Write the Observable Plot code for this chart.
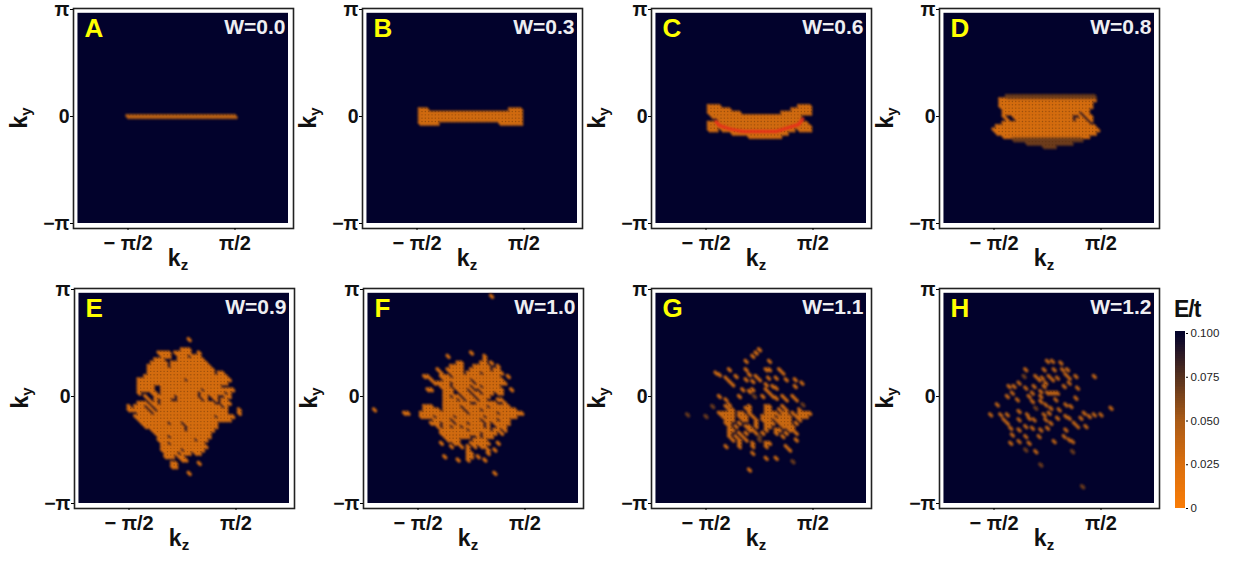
<!DOCTYPE html>
<html><head><meta charset="utf-8">
<script src="https://cdn.jsdelivr.net/npm/d3@7"></script>
<script src="https://cdn.jsdelivr.net/npm/@observablehq/plot@0.6"></script>
<style>
html,body{margin:0;padding:0;background:#fff;width:1242px;height:561px;overflow:hidden}
#page{position:relative;width:1242px;height:561px;font-family:"Liberation Sans",Arial,sans-serif}
#page svg{position:absolute;background:transparent;overflow:visible}
#et{position:absolute;left:1174px;top:296px;font:bold 23px "Liberation Sans";letter-spacing:-1px;color:#111}
</style></head><body><div id="page"><div id="et">E/t</div></div>
<script>
// Lattice: kz = i·π/32, ky = j·π/32. Each row: [j, i1, i2, i1, i2, ...]
const rowsA=[[0,-16,16]];
const rowsB=[[2,-15,-13,12,15],[1,-15,15],[0,-15,15],[-1,-15,15],[-2,-15,-10,9,15]];
const rowsC=[[3,-15,-12,12,15],[2,-15,-9,10,15],[1,-15,-6,7,15],[0,-14,12],[-1,-12,12],[-2,-15,14],[-3,-15,15],[-4,-11,10,-15,-13,12,15],[-5,-8,8],[-6,-3,6]];
const redC=[[-13,-1.5],[-12,-2.7],[-9,-3.7],[-5,-4.5],[0,-4.5],[5,-4.5],[9,-3.2],[11.7,-2.4],[13,-0.7]];
const rowsD=[[5,-14,14],[4,-14,13],[3,-14,13],[2,-13,12],[1,-13,9,11,12],[0,-13,-13,-10,7,10,10,12,13],[-1,-12,-12,-9,7,9,11,13,13],[-2,-13,12],[-3,-15,14],[-4,-16,15],[-5,-15,14],[-6,-13,12]];
const dimD=[[6,-12,14],[-7,-10,10],[-8,-6,7],[-9,-1,2]];
const rowsE=[[17,2,2],[14,0,2],[13,-7,-4,-2,2,5,5],[12,-6,-4,-1,1,3,5],[11,-8,-6,-1,6],[10,-9,-5,-3,7],[9,-10,-5,-3,8],[8,-10,9],[7,-10,9,11,12],[6,-11,13],[5,-13,0,2,14],[4,-13,13],[3,-13,-9,-6,11],[2,-13,-9,-6,5,7,15],[1,-13,-13,-9,-8,-6,4,6,12,14,14],[0,-11,-11,-8,-3,-1,4,6,7,9,10,13,14],[-1,-10,-10,-8,-8,-6,-4,-1,5,7,7,10,10,12,13],[-2,-13,-11,-9,-8,-6,9,12,14],[-3,-16,-16,-14,-12,-10,-10,-8,11,13,13],[-4,-16,-15,-14,-11,-9,-9,-7,13,17,17],[-5,-13,-10,-8,13,17,17],[-6,-14,9,11,15],[-7,-13,14],[-8,-12,-5,-3,-1,1,10],[-9,-11,0,2,10],[-10,-9,0,2,9],[-11,-8,8],[-12,-7,-5,-3,8],[-13,-7,3,5,7],[-14,-6,-5,-3,6],[-15,-6,7],[-16,-6,-1,1,6],[-17,-5,-2,0,2,4,5],[-18,-5,-3,-1,0],[-19,0,1],[-20,-3,-2,5,5],[-21,-3,-2],[-23,2,2]];
const rowsF=[[30,6,6],[13,0,0],[12,-7,-7,4,4],[11,4,4],[10,-4,-3,3,4,6,6],[9,-6,-3,1,5,8,8],[8,-10,-10,-7,-3,0,5,7,8],[7,-9,-9,-6,-3,-1,2,4,9],[6,-14,-13,-9,-7,-5,8,11,11],[5,-12,-12,-8,-1,1,9],[4,-11,-7,-5,0,2,10],[3,-9,-7,-5,-1,1,2,4,8],[2,-13,-12,-8,-6,-4,-2,0,0,3,9,12,12],[1,-8,-6,-3,-1,1,2,4,6,8,9],[0,-8,-7,-5,-4,-2,0,2,5],[-1,-8,-5,-3,-3,-1,1,3,4,8,9],[-2,-8,-1,2,7,10,10],[-3,-14,-12,-8,-4,-2,4,6,11],[-4,-29,-29,-14,-10,-8,-3,-1,2,4,13],[-5,-20,-19,-15,-8,-7,-2,0,7,9,15],[-6,-15,-12,-10,-6,-4,3,5,13],[-7,-11,-9,-8,-7,-5,2,4,7,9,11],[-8,-12,-10,-8,-6,-4,-2,0,3,5,5,7,11],[-9,-10,-10,-8,-7,-5,-4,-2,3,5,5,8,10],[-10,-9,-2,0,5,7,8,10,10],[-11,-9,2,4,7,9,9],[-12,-8,-1,2,2,4,6],[-13,-7,-4,1,4],[-14,-9,-9,-5,-4,0,5,8,8],[-15,-6,-6,-3,-3,-1,-1,1,1,3,4],[-16,-1,-1,5,5,7,7],[-17,-1,0,5,5],[-18,-8,-8,-1,0,2,2],[-19,-4,-4,-1,-1,4,4],[-23,7,7]];
const rowsG=[[-4,-9,-8,-3,-3,2,3,6,6,8,8,12,12],[-3,2,3,7,7],[-5,-12,-8,-6,-5,-3,-3,2,5,7,8,10,10,12,15],[-6,-11,-8,-6,-4,-2,-2,1,4,6,9,11,14],[-7,-10,-8,-5,-4,-1,-1,1,3,5,9,12,12],[-8,-10,-9,-6,-6,-1,-1,2,4,6,9,11,11],[-9,-9,-9,-7,-7,-4,-3,-1,-1,2,3,7,10],[-10,-9,-8,-3,-2,2,2,5,6,9,10],[-11,-9,-9,-6,-6,-4,-4,-1,-1,1,1,5,5,8,8,11,11],[-12,-9,-9,-7,-7,-5,-5,7,7],[-13,-8,-8,-6,-6,-4,-4,11,11],[-14,-6,-6,-2,-2,2,3]];
const pointsG=[[0,14],[-1,13],[-2,12],[-4,10.5],[3,10.5],[-9,8],[-4,8],[2,8],[3,8],[6,8],[7,7],[-13,7],[-12,6.5],[-10,5.5],[-9,4.5],[-8,3.5],[-7,6],[-3,6.5],[-1,6],[0,5],[-4,5],[-2,4.5],[2.7,5.5],[5,5.5],[8,5],[10.7,5],[12.7,4],[10.7,3],[2,3.5],[4,3],[5,2.5],[2,2],[3,1],[4,0],[5,-0.5],[-5,2],[-3,1.5],[-2,2],[-6,0],[-12,0],[-10,-1],[1,0],[7,0],[8,-1],[10,0],[11,-1],[-3,-3],[-4,-3.5],[-9,-2.5],[-10,-3],[-6,-15],[8,-15],[9,-16],[-2,-17],[2,-18.5],[5,-18.5],[-3,-22],[-10,-15],[-2,-15],[2,-15]];
const dimG=[[-14,-3],[13,-2.5],[-1.5,0],[10,-19.5],[-21.5,-5.5],[-16,-6],[0,-12],[0,-13]];
const pointsH=[[0,10.5],[1.5,10.5],[4,10],[6,8],[-1,8],[2,8],[4.5,8],[-6.5,8],[14,6],[8.5,6],[-3.5,6],[-1.5,5.5],[0.5,6],[3,5.5],[5.5,6.5],[6.5,5.5],[-2.5,5],[-0.5,4],[1.5,5],[-8.5,4],[-10,3],[-11.5,3],[-6.5,2.5],[-4,3],[-1,3],[5,3],[6.5,4],[9,2.5],[-2,1.5],[-4.5,1],[0,1],[1,1],[2,1],[3,1],[-10.5,1],[-12,0],[-9,-1],[-5.5,0],[-4.5,-1.5],[-2,0],[-2,-1.5],[2.5,-1],[5.5,-2.5],[7,-3],[8.5,-0.5],[-15,-2.5],[-0.5,-2.5],[3.5,-4],[1,-3.5],[19,-3.5],[-8.5,-4.5],[-6,-5.5],[-17,-5.5],[-14,-5.5],[-12,-5.5],[-8.5,-7],[-13,-7],[-12,-8],[-11,-9.5],[-5.5,-6.5],[-4,-7],[-1,-5.5],[0.5,-5],[-0.5,-7],[1,-8],[3,-6.5],[5.5,-6],[6.5,-6.5],[8,-8],[10,-6.5],[12.5,-6],[14,-5.5],[16,-5.5],[11,-5],[9,-9],[11.5,-9],[5.5,-10],[-6.5,-9],[-4.5,-9.5],[-2,-10],[0,-9.5],[-8.5,-10],[-10.5,-11.5],[-11,-14],[-8.5,-13.5],[-6.5,-12],[-5.5,-14],[-2.5,-12],[2,-13.5],[5,-12],[6.5,-13],[7.5,-13.5],[-3.5,-16.5]];
const dimH=[[7.5,-16.5],[-2,-20.5],[10.5,-27],[-7,6],[-3.5,-3.5],[-6.5,-16]];

const panelNames=["A","B","C","D","E","F","G","H"];
const disorder=["W=0.0","W=0.3","W=0.6","W=0.8","W=0.9","W=1.0","W=1.1","W=1.2"];
const frameLefts=[73,362,651,939,74,363,651,939];
const frameTops=[8,8,8,8,288,288,288,288];
const solidRows=[rowsA,rowsB,rowsC,rowsD,rowsE,rowsF,rowsG,[]];
const solidPoints=[[],[],[],[],[],[],pointsG,pointsH];
const dimRows=[[],[],[],dimD,[],[],[],[]];
const dimPoints=[[],[],[],[],[],[],dimG,dimH];
const energies=[0.042,0.03,0.03,0.028,0.028,0.03,0.034,0.042];
const dimEnergy=0.068;
const backgroundEnergy=0.1;
const colorStops=[0,0.025,0.05,0.075,0.1];
const colorValues=["#f97c06","#d96e0e","#a85a17","#54301e","#02022c"];
const colorTicks=[0,0.025,0.05,0.075,0.1];
const colorLabels=["0","0.025","0.050","0.075","0.100"];
const redColor="#e8301a";

const PI=Math.PI, u=PI/32;
const color={type:"linear",domain:colorStops,range:colorValues,interpolate:"rgb"};
const expand=(rows,E)=>rows.flatMap(([j,...r])=>{const o=[];for(let k=0;k<r.length;k+=2)for(let i=r[k];i<=r[k+1];i++)o.push({i,j,E});return o;});
const pts=(p,E)=>p.map(([i,j])=>({i,j,E}));
const piLabel=v=>v===0?"0":Math.abs(v-PI)<.01?"π":Math.abs(v+PI)<.01?"−π":v>0?"π/2":"− π/2";
const page=document.getElementById("page");
const font='"Liberation Sans",Arial,sans-serif';

panelNames.forEach((name,n)=>{
  const cells=[...expand(solidRows[n],energies[n]),...pts(solidPoints[n],energies[n]),...expand(dimRows[n],dimEnergy),...pts(dimPoints[n],dimEnergy)];
  const a=0.3*u;
  const marks=[
    Plot.rect([{E:backgroundEnergy}],{x1:-3.04,x2:PI,y1:-PI,y2:3.03,fill:"E"}),
    Plot.link(cells,{x1:d=>d.i*u-a,y1:d=>d.j*u+a,x2:d=>d.i*u+a,y2:d=>d.j*u-a,stroke:"E",strokeWidth:3.4,strokeLinecap:"round"}),
    Plot.dot(cells,{x:d=>d.i*u+u/2,y:d=>d.j*u+u/2,r:0.7,fill:"#4a2508",fillOpacity:0.4})
  ];
  if(name==="C") marks.push(Plot.line(redC,{x:d=>d[0]*u,y:d=>d[1]*u,stroke:redColor,strokeWidth:3,curve:"linear"}));
  marks.push(
    Plot.frame({stroke:"#222",strokeWidth:1.6}),
    Plot.axisX([-PI/2,PI/2],{tickFormat:piLabel,tickSize:2,tickPadding:5,fontSize:20,fontWeight:"bold",label:null,fill:"#111"}),
    Plot.axisY([-PI,0,PI],{tickFormat:piLabel,tickSize:3,tickPadding:1,fontSize:19.5,fontWeight:"bold",label:null,fill:"#111"}),
    Plot.text([name],{frameAnchor:"top-left",dx:11,dy:10,text:d=>d,fontSize:26,fontWeight:"bold",fill:"#ffff00"}),
    Plot.text([disorder[n]],{frameAnchor:"top-right",dx:-8,dy:11,text:d=>d,fontSize:21,fontWeight:"bold",fill:"#eeeef2"})
  );
  const svg=Plot.plot({
    width:292,height:280,marginLeft:70,marginRight:2,marginTop:8,marginBottom:52,
    style:{fontFamily:font,background:"transparent"},
    x:{domain:[-108/107*PI,112/107*PI],axis:null},
    y:{domain:[-112/107*PI,108/107*PI],axis:null},
    color,marks});
  svg.style.left=(frameLefts[n]-70)+"px";
  svg.style.top=(frameTops[n]-8)+"px";
  const s=d3.select(svg);
  s.selectAll('[aria-label="link"],[aria-label="line"]').style("filter","blur(0.8px)");
  s.append("text").attr("x",175).attr("y",266).attr("text-anchor","middle").attr("font-family",font).attr("font-weight","bold").attr("font-size",23).attr("fill","#111")
    .html('k<tspan dy="4" font-size="15">z</tspan>');
  s.append("text").attr("transform","translate(24,118) rotate(-90)").attr("text-anchor","middle").attr("font-family",font).attr("font-weight","bold").attr("font-size",23).attr("fill","#111")
    .html('k<tspan dy="4" font-size="15">y</tspan>');
  page.appendChild(svg);
});

const ramp=d3.range(0,0.1,0.001).map(v=>({v}));
const legend=Plot.plot({
  width:62,height:195,marginLeft:0,marginRight:52,marginTop:13,marginBottom:7,
  style:{fontFamily:font,background:"transparent"},
  x:{axis:null,domain:[0,1]},
  y:{domain:[0,0.1],axis:null},
  color,
  marks:[
    Plot.rect(ramp,{x1:0,x2:1,y1:"v",y2:d=>d.v+0.002,fill:"v",shapeRendering:"crispEdges"}),
    Plot.axisY(colorTicks,{anchor:"right",tickFormat:(d,i)=>colorLabels[i],tickSize:2,tickPadding:3,fontSize:11.5,label:null,fill:"#222"})
  ]});
legend.style.left="1175px";legend.style.top="320px";
page.appendChild(legend);
</script></body></html>
